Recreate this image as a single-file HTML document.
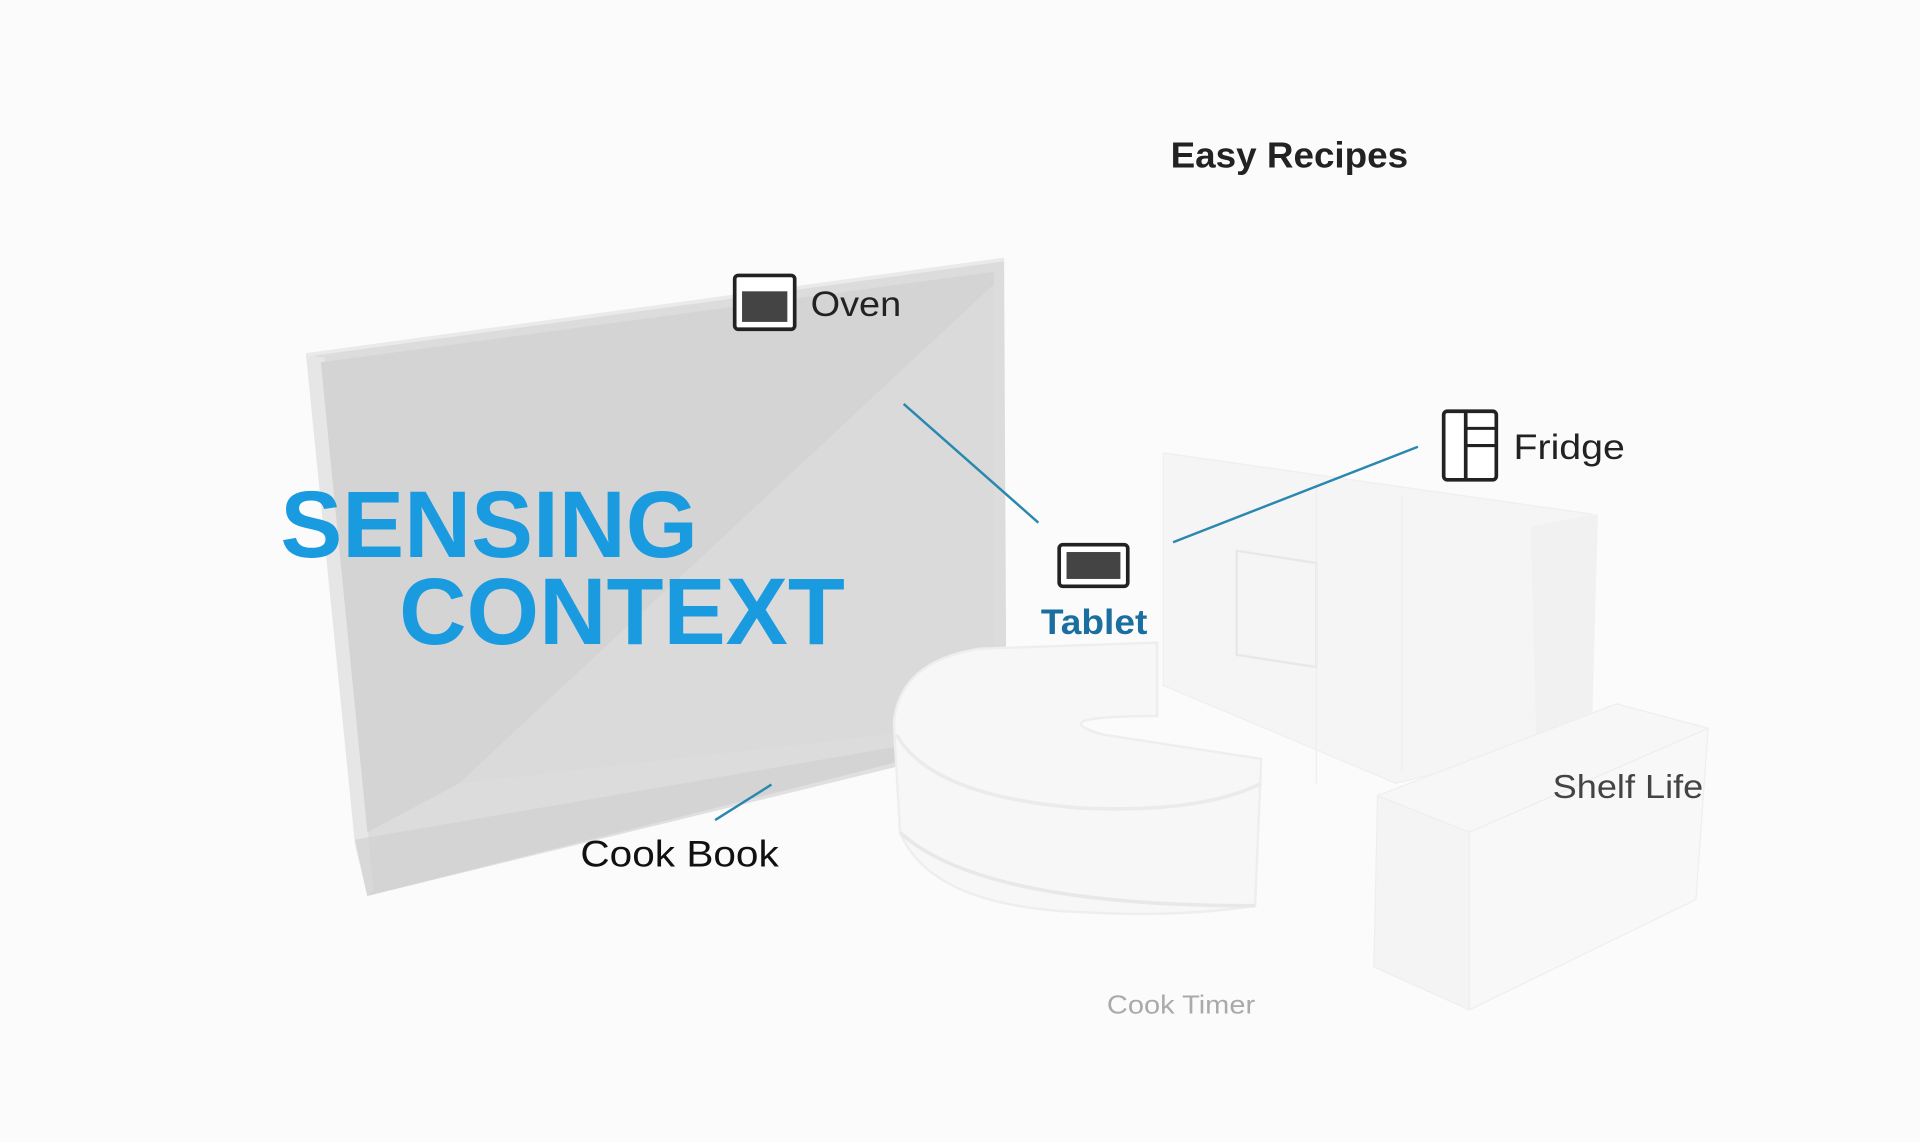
<!DOCTYPE html>
<html><head><meta charset="utf-8"><style>
html,body{margin:0;padding:0;background:#fbfbfb;}
svg{display:block;}
text{font-family:"Liberation Sans",sans-serif;}
</style></head><body>
<svg width="1920" height="1142" viewBox="0 0 1568 933" preserveAspectRatio="none" xmlns="http://www.w3.org/2000/svg">
<rect width="1568" height="933" fill="#fbfbfb"/>
<!-- panel -->
<polygon points="250,290 820,212 822,600 300,732 290,690" fill="#dcdcdc"/>
<polygon points="250,290 265,292 305,728 300,732 290,690" fill="#e6e6e6"/>
<polygon points="262,296 812,222 812,232 375,640 300,680" fill="#d4d4d4"/>
<polygon points="812,232 812,590 375,640" fill="#dadada"/>
<polygon points="290,686 820,595 820,605 300,732" fill="#cfcfcf" opacity="0.6"/>
<line x1="250" y1="290" x2="820" y2="212" stroke="#eaeaea" stroke-width="3"/>
<!-- kitchen cabinets back -->
<polygon points="950,370 1090,390 1300,420 1300,600 1140,640 950,560" fill="#f5f5f5" stroke="#efefef"/>
<polygon points="1250,430 1305,420 1300,600 1255,620" fill="#f1f1f1"/>
<polygon points="1010,450 1075,460 1075,545 1010,535" fill="none" stroke="#e8e8e8" stroke-width="2"/>
<line x1="1075" y1="395" x2="1075" y2="640" stroke="#eeeeee"/>
<line x1="1145" y1="405" x2="1145" y2="630" stroke="#eeeeee"/>
<!-- island right -->
<polygon points="1125,650 1320,575 1395,595 1200,680" fill="#f7f7f7" stroke="#eeeeee"/>
<polygon points="1125,650 1200,680 1200,825 1122,790" fill="#f4f4f4" stroke="#eeeeee"/>
<polygon points="1200,680 1395,595 1385,735 1200,825" fill="#f8f8f8" stroke="#eeeeee"/>
<!-- round island -->
<path d="M730,590 Q735,540 800,530 L945,525 L945,585 Q850,585 900,600 L1030,620 L1025,740 Q960,750 880,745 Q760,740 735,680 Z" fill="#f7f7f7" stroke="#eeeeee" stroke-width="2"/>
<path d="M732,600 Q760,650 880,660 Q980,665 1030,640" fill="none" stroke="#ebebeb" stroke-width="3"/>
<path d="M735,680 Q800,740 1025,740" fill="none" stroke="#e8e8e8" stroke-width="3"/>
<!-- connectors -->
<line x1="738" y1="330" x2="848" y2="427" stroke="#2a88b0" stroke-width="2"/>
<line x1="958" y1="443" x2="1158" y2="365" stroke="#2a88b0" stroke-width="2"/>
<line x1="584" y1="670" x2="630" y2="641" stroke="#2a88b0" stroke-width="2"/>
<!-- icons -->
<rect x="600" y="225" width="49" height="44" rx="3" fill="#fff" stroke="#222" stroke-width="3"/>
<rect x="606" y="238" width="37" height="25" fill="#444"/>
<rect x="1179" y="336" width="43" height="56" rx="3" fill="#fff" stroke="#222" stroke-width="3"/>
<line x1="1197" y1="337" x2="1197" y2="391" stroke="#222" stroke-width="3"/>
<line x1="1197" y1="350" x2="1221" y2="350" stroke="#222" stroke-width="2.5"/>
<line x1="1197" y1="364" x2="1221" y2="364" stroke="#222" stroke-width="2.5"/>
<rect x="865" y="445" width="56" height="34" rx="3" fill="#fff" stroke="#222" stroke-width="3"/>
<rect x="871" y="451" width="44" height="22" fill="#444"/>
<!-- text -->
<text x="956" y="137" font-size="29.5" fill="#222" font-weight="bold" textLength="194" lengthAdjust="spacingAndGlyphs">Easy Recipes</text>
<text x="662" y="258" font-size="29" fill="#222" textLength="74" lengthAdjust="spacingAndGlyphs">Oven</text>
<text x="1236" y="375" font-size="29" fill="#222" textLength="91" lengthAdjust="spacingAndGlyphs">Fridge</text>
<text x="850" y="518" font-size="29" fill="#1a6fa0" font-weight="bold" textLength="87" lengthAdjust="spacingAndGlyphs">Tablet</text>
<text x="1268" y="652" font-size="27" fill="#444" textLength="123" lengthAdjust="spacingAndGlyphs">Shelf Life</text>
<text x="474" y="708" font-size="30" fill="#111" textLength="162" lengthAdjust="spacingAndGlyphs">Cook Book</text>
<text x="904" y="828" font-size="21" fill="#aaa" textLength="121" lengthAdjust="spacingAndGlyphs">Cook Timer</text>
<text x="229" y="455" font-size="77" font-weight="bold" fill="#1a9be0" textLength="341" lengthAdjust="spacingAndGlyphs">SENSING</text>
<text x="326" y="526" font-size="77" font-weight="bold" fill="#1a9be0" textLength="364" lengthAdjust="spacingAndGlyphs">CONTEXT</text>
</svg>
</body></html>
